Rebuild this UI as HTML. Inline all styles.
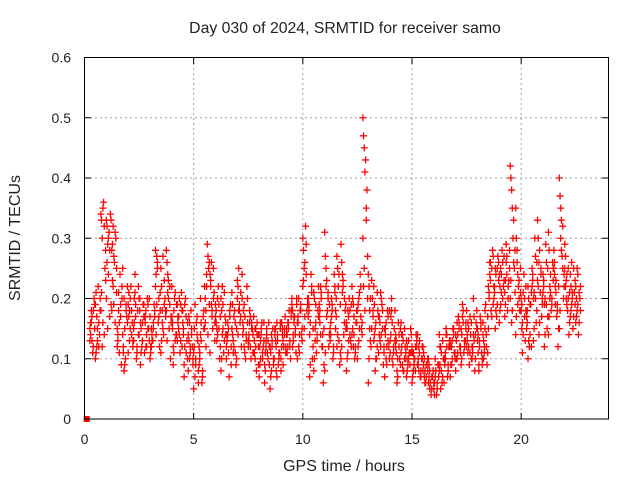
<!DOCTYPE html>
<html><head><meta charset="utf-8"><style>
html,body{margin:0;padding:0;background:#fff}
svg text{font-family:"Liberation Sans",sans-serif;fill:#222}
</style></head><body>
<svg id="chart" width="640" height="480" xmlns="http://www.w3.org/2000/svg">
<rect width="640" height="480" fill="#fff"/>
<text x="345" y="33" font-size="15.8" text-anchor="middle">Day 030 of 2024, SRMTID for receiver samo</text>
<text x="344" y="471" font-size="16" text-anchor="middle">GPS time / hours</text>
<text transform="translate(20,238) rotate(-90)" font-size="16" text-anchor="middle">SRMTID / TECUs</text>
<g id="grid"></g><g id="ticks"></g><g id="marks"></g>
<rect x="84.5" y="57.5" width="524" height="361.5" fill="none" stroke="#000" stroke-width="1"/>
</svg>
<script>
const xTicks=[0,5,10,15,20];
const yTicks=[0,0.1,0.2,0.3,0.4,0.5,0.6];
const yTickLabels=["0","0.1","0.2","0.3","0.4","0.5","0.6"];
const binStart=[0.25,0.5,0.75,1,1.25,1.5,1.75,2,2.25,2.5,2.75,3,3.25,3.5,3.75,4,4.25,4.5,4.75,5,5.25,5.5,5.75,6,6.25,6.5,6.75,7,7.25,7.5,7.75,8,8.25,8.5,8.75,9,9.25,9.5,9.75,10,10.25,10.5,10.75,11,11.25,11.5,11.75,12,12.25,12.5,12.75,13,13.25,13.5,13.75,14,14.25,14.5,14.75,15,15.25,15.5,15.75,16,16.25,16.5,16.75,17,17.25,17.5,17.75,18,18.25,18.5,18.75,19,19.25,19.5,19.75,20,20.25,20.5,20.75,21,21.25,21.5,21.75,22,22.25,22.5];
const binValues=[
[15,18,11,20,13,16],[10,17,22,14,19,12],[34,30,36,25,18,12],[33,29,31,34,20,15],[28,32,26,30,18,22],
[12,18,24,9,15,21],[14,20,10,17,25,8],[19,13,22,16,11,18],[15,21,10,18,13,24],[20,16,12,19,14,9],
[17,12,20,15,11,18],[10,15,13,19,17,12],[22,27,16,12,28,19],[25,18,14,20,11,16],[28,21,15,10,18,24],
[17,12,20,14,22,9],[19,15,11,21,13,17],[16,9,20,13,18,7],[14,10,18,12,8,16],[11,7,16,13,5,19],
[9,14,6,17,12,20],[22,18,29,25,15,12],[24,19,15,21,11,26],[17,13,22,10,19,15],[20,14,11,17,8,22],
[12,16,7,19,10,14],[15,11,18,9,21,13],[20,25,16,12,23,18],[14,19,10,22,16,12],[13,16,10,15,12,18],
[11,15,8,14,17,10],[14,10,16,12,7,13],[9,13,11,16,6,12],[12,8,15,10,5,14],[13,16,9,11,15,7],
[10,14,12,17,8,15],[15,12,18,10,14,16],[20,14,17,11,19,13],[16,12,18,14,10,20],[30,25,32,18,22,15],
[20,14,24,10,17,7],[21,15,11,18,8,13],[17,22,12,6,19,14],[31,25,18,12,8,22],[15,20,10,24,13,17],
[18,12,22,9,15,27],[29,21,14,18,10,24],[16,11,20,13,8,18],[14,19,10,16,22,12],[18,13,24,15,10,20],
[50,45,43,38,30,25],[24,18,12,20,6,15],[22,15,10,18,13,8],[17,12,19,9,14,21],[15,10,18,12,7,16],
[13,18,9,15,11,20],[12,8,16,10,14,6],[11,14,8,12,16,9],[13,9,11,15,7,10],[12,8,10,14,6,11],
[9,12,7,10,14,8],[8,10,6,9,12,7],[6,8,4,7,10,5],[5,7,4,9,6,10],[8,12,6,10,14,5],
[10,14,7,12,9,15],[13,9,15,11,7,12],[14,10,17,12,8,16],[15,19,11,13,9,17],[12,16,9,14,18,11],
[10,14,8,16,12,20],[13,9,17,11,15,8],[14,11,19,9,16,12],[22,26,18,28,15,24],[20,25,17,27,22,15],
[24,19,28,22,16,25],[21,26,18,23,17,29],[42,38,30,25,20,16],[35,28,22,18,14,26],[20,16,24,13,18,11],
[17,22,12,19,15,10],[25,20,30,16,22,13],[33,26,21,17,23,14],[24,19,29,15,21,12],[31,22,18,26,14,20],
[28,22,17,12,25,19],[40,35,27,20,15,30],[29,23,18,14,25,20],[24,19,15,21,17,26],[22,18,14,20,16,25]];
const binValues2=[
[14,17,12,19,16,13,18,15],[11,13,16,18,21,15,12,20],[33,35,32,28,21,16,14,23],[32,30,28,33,26,24,17,19],[29,27,31,25,23,19,16,21],
[13,16,19,22,14,11,17,20],[12,15,18,22,11,9,19,16],[17,20,14,12,21,15,18,13],[16,19,12,14,20,17,11,22],[18,15,13,17,20,11,16,19],
[16,14,19,13,17,12,15,20],[12,14,16,18,11,13,15,17],[24,26,20,18,14,25,17,21],[22,27,19,17,13,15,23,18],[26,23,19,17,13,20,22,16],
[15,18,13,19,16,11,21,14],[17,14,19,12,16,20,13,18],[14,12,17,10,15,19,11,16],[13,11,15,9,17,12,14,10],[12,9,14,8,15,10,17,6],
[11,13,8,15,10,16,7,18],[20,24,27,19,16,22,14,26],[22,17,20,13,23,18,25,16],[16,14,19,12,18,20,15,17],[18,15,13,16,10,19,21,14],
[14,11,17,9,13,15,18,12],[14,12,16,10,19,17,11,15],[22,18,21,24,14,19,17,20],[15,17,13,20,18,11,14,16],[14,12,16,11,13,17,15,14],
[13,12,16,9,11,15,14,12],[12,15,11,13,9,14,10,16],[11,14,10,12,8,15,13,9],[11,13,9,14,7,12,10,15],[12,14,10,16,8,13,11,15],
[12,13,15,11,16,9,14,12],[14,16,13,17,11,15,12,18],[18,16,15,19,12,17,14,20],[17,14,19,13,16,11,18,15],[28,26,29,20,23,17,24,19],
[19,16,22,12,18,9,21,15],[20,16,13,17,10,19,14,22],[18,20,14,9,16,21,12,15],[27,23,20,14,11,17,21,19],[16,18,12,22,14,19,11,21],
[20,14,24,11,17,25,13,19],[26,22,16,19,12,23,20,15],[15,13,18,12,10,17,14,19],[15,17,12,18,20,14,11,16],[19,15,22,14,12,21,17,16],
[47,41,35,27,22,18,33,20],[22,20,15,18,10,13,23,17],[19,16,12,17,14,10,21,11],[16,14,18,11,13,20,15,12],[14,12,17,10,15,9,13,18],
[14,16,11,13,17,10,12,18],[11,10,14,9,13,7,12,15],[12,13,10,11,14,8,15,10],[12,10,11,14,8,13,9,11],[11,9,12,13,7,10,8,12],
[10,11,8,12,9,13,7,10],[9,8,7,10,11,6,9,8],[7,6,5,8,9,6,7,8],[6,8,5,7,4,8,6,9],[9,11,7,10,12,8,13,6],
[11,12,9,13,10,14,8,12],[12,10,14,11,9,13,15,10],[13,11,15,12,10,14,16,11],[14,16,12,15,10,18,13,16],[13,15,11,16,14,12,17,10],
[12,13,10,15,11,17,14,18],[11,12,15,10,14,13,16,9],[13,15,12,17,10,18,14,11],[20,23,25,19,21,26,17,27],[22,24,19,26,21,18,25,23],
[22,21,26,23,18,24,20,27],[23,24,20,25,19,27,22,28],[40,35,33,28,23,18,26,21],[30,24,20,25,17,19,23,21],[19,21,17,22,15,14,20,18],
[18,20,14,21,16,13,19,12],[23,21,27,18,24,15,20,26],[30,28,24,19,22,16,25,20],[22,20,26,17,23,14,19,25],[28,24,20,23,17,21,19,25],
[26,23,19,15,24,21,18,22],[37,33,25,22,18,28,32,24],[27,24,20,16,22,19,25,21],[22,20,17,23,18,21,25,19],[20,19,16,22,17,24,21,18]];
const binWidth=0.25;
const NS="http://www.w3.org/2000/svg";
function xs(t){return 84.5+t*(524/24);}
function ys(v){return 419-v*(361.5/0.6);}
function mk(tag,attrs,parent){const e=document.createElementNS(NS,tag);for(const k in attrs)e.setAttribute(k,attrs[k]);parent.appendChild(e);return e;}
const grid=document.getElementById('grid'),ticks=document.getElementById('ticks'),marks=document.getElementById('marks');
xTicks.forEach(t=>{
  const x=xs(t);
  if(t>0){const g=mk('line',{x1:x,y1:58,x2:x,y2:419,stroke:'#a0a0a0','stroke-dasharray':'2,3'},grid);
  
  }
  mk('line',{x1:x,y1:419,x2:x,y2:413,stroke:'#000'},ticks);
  mk('line',{x1:x,y1:58,x2:x,y2:64,stroke:'#000'},ticks);
  const l=mk('text',{x:x,y:444,'font-size':14,'text-anchor':'middle'},ticks);l.textContent=t;
  
  
});
yTicks.forEach((v,i)=>{
  const y=ys(v);
  if(v>0&&v<0.6){const g=mk('line',{x1:85,y1:y,x2:608,y2:y,stroke:'#a0a0a0','stroke-dasharray':'2,3'},grid);
  
  }
  mk('line',{x1:84.5,y1:y,x2:91,y2:y,stroke:'#000'},ticks);
  mk('line',{x1:608.5,y1:y,x2:602,y2:y,stroke:'#000'},ticks);
  const l=mk('text',{x:71,y:y+5,'font-size':14,'text-anchor':'end'},ticks);l.textContent=yTickLabels[i];
  
  
});
function drawSet(set,offset,color){
  binStart.forEach((t,b)=>{
    const vals=set[b];
    vals.forEach((v,i)=>{
      const x=xs(t+offset+binWidth*(i%4)/4),y=ys(v/100);
      const p=mk('path',{d:`M${x-3.5},${y}h7M${x},${y-3.5}v7`,stroke:color,'stroke-width':1.3,fill:'none'},marks);
      
      
    });
  });
}
drawSet(binValues2,0.03,'#f00');
drawSet(binValues,0.0,'#f00');
const sq=mk('rect',{x:xs(0.1)-3,y:ys(0)-3,width:6,height:6,fill:'#f00'},marks);


</script>
</body></html>
